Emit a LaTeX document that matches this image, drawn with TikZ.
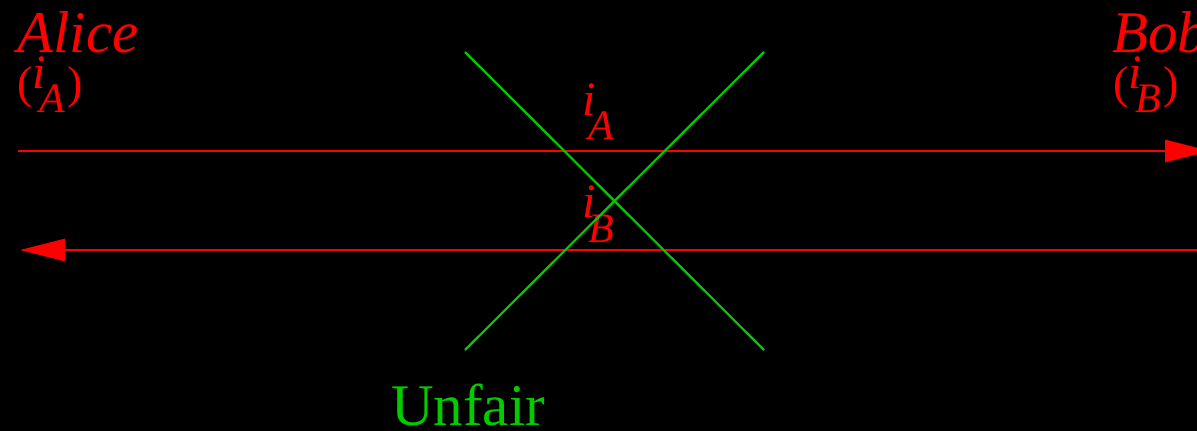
\documentclass[tikz,border=0pt]{standalone}
\usepackage{fontspec}
\setmainfont{Liberation Serif}
\usetikzlibrary{arrows.meta}
\definecolor{fgred}{RGB}{255,0,0}
\definecolor{fggreen}{RGB}{0,204,0}
\newcommand{\bigit}{\fontsize{59}{61}\selectfont\itshape}
\newcommand{\midit}{\fontsize{48}{50}\selectfont\itshape}
\newcommand{\subit}{\fontsize{42}{44}\selectfont\itshape}
\newcommand{\midrm}{\fontsize{46}{48}\selectfont\upshape}
\begin{document}
\begin{tikzpicture}[x=1pt,y=-1pt,
  redtxt/.style={text=fgred, inner sep=0pt, anchor=base west},
  greentxt/.style={text=fggreen, inner sep=0pt, anchor=base west},
  redarrow/.style={draw=fgred, line width=2.8pt, -{Triangle[length=45pt,width=22pt]}},
  greenline/.style={draw=fggreen, line width=2.2pt}]
\fill[black] (0,0) rectangle (1197,431);
\clip (0,0) rectangle (1197,431);
% labels
\node[redtxt] (alice) at (17,52) {\bigit Alice};
\node[redtxt] (aliceid) at (17,98) {\midrm(\raisebox{10pt}{\midit i}\hspace{-6pt}\raisebox{-14pt}{\subit A}\hspace{2pt})};
\node[redtxt] (bob) at (1112,52) {\bigit Bob};
\node[redtxt] (bobid) at (1113,98) {\midrm(\raisebox{10pt}{\midit i}\hspace{-6pt}\raisebox{-14pt}{\subit B}\hspace{2pt})};
\node[redtxt] (ia) at (582,115) {\midit i\hspace{-7pt}\raisebox{-24pt}{\subit A}};
\node[redtxt] (ib) at (582,217) {\midit i\hspace{-7pt}\raisebox{-25pt}{\subit B}};
\node[greentxt] (unfair) at (391,425) {\fontsize{59}{61}\selectfont Unfair};
% arrows
\coordinate (aL) at (18,151);
\coordinate (aR) at (1210,151);
\coordinate (bR) at (1200,250);
\coordinate (bL) at (20,250);
\draw[redarrow] (aL) -- (aR);
\draw[redarrow] (bR) -- (bL);
% cross
\coordinate (x1) at (465,52);
\coordinate (x2) at (764,350);
\coordinate (x3) at (465,350);
\coordinate (x4) at (764,52);
\draw[greenline] (x1) -- (x2);
\draw[greenline] (x3) -- (x4);
\end{tikzpicture}
\end{document}
